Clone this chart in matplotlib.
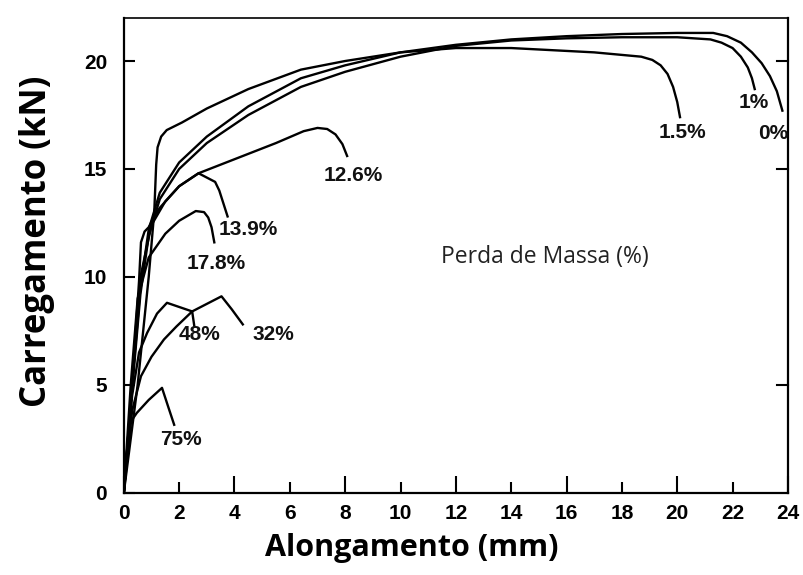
import matplotlib
matplotlib.use('Agg')
import matplotlib.pyplot as plt

# Curve data: elongation (mm) vs load (kN)
x_0 = [0, 0.3, 0.6, 0.9, 1.3, 2.0, 3.0, 4.5, 6.4, 8.0, 10.0, 12.0, 14.0, 16.0, 18.0, 20.0, 21.3, 21.8, 22.3, 22.7, 23.05, 23.35, 23.6, 23.8]
y_0 = [0, 5.0, 9.5, 12.2, 13.9, 15.3, 16.5, 17.9, 19.2, 19.8, 20.4, 20.75, 21.0, 21.15, 21.25, 21.3, 21.3, 21.15, 20.85, 20.4, 19.9, 19.3, 18.6, 17.7]

x_1 = [0, 0.3, 0.6, 0.9, 1.3, 2.0, 3.0, 4.5, 6.4, 8.0, 10.0, 12.0, 14.0, 16.0, 18.0, 20.0, 21.2, 21.6, 22.0, 22.3, 22.55, 22.7, 22.8]
y_1 = [0, 4.8, 9.2, 11.9, 13.6, 15.0, 16.2, 17.5, 18.8, 19.5, 20.2, 20.7, 20.95, 21.05, 21.1, 21.1, 21.0, 20.85, 20.6, 20.2, 19.7, 19.2, 18.7]

x_15 = [0, 0.5, 0.9, 1.1, 1.17, 1.22, 1.35, 1.55, 2.1, 3.0, 4.5, 6.4, 8.0, 10.0, 12.0, 14.0, 15.5, 17.0, 18.7, 19.1, 19.4, 19.65, 19.85, 20.0, 20.1]
y_15 = [0, 5.0, 10.0, 13.0, 15.2, 16.0, 16.5, 16.8, 17.15, 17.8, 18.7, 19.6, 20.0, 20.4, 20.6, 20.6, 20.5, 20.4, 20.2, 20.05, 19.8, 19.4, 18.8, 18.1, 17.4]

x_126 = [0, 0.3, 0.55, 0.62, 0.75, 0.9, 1.1, 1.3, 2.0, 2.7, 4.0, 5.5, 6.5, 7.0, 7.35, 7.65, 7.9, 8.07]
y_126 = [0, 5.0, 9.8, 11.6, 12.1, 12.3, 12.8, 13.2, 14.2, 14.8, 15.45, 16.2, 16.75, 16.9, 16.85, 16.6, 16.15, 15.6]

x_139 = [0, 0.3, 0.6, 1.0, 1.5, 2.0, 2.7, 3.3, 3.45, 3.6, 3.75]
y_139 = [0, 5.0, 10.0, 12.4, 13.5, 14.2, 14.8, 14.4, 14.0, 13.4, 12.8]

x_178 = [0, 0.25, 0.5, 0.9, 1.5, 2.0, 2.6, 2.9, 3.05, 3.17, 3.27]
y_178 = [0, 5.0, 9.0, 10.9, 12.0, 12.6, 13.05, 13.0, 12.75, 12.3, 11.6]

x_48 = [0, 0.3, 0.55, 0.84, 1.2, 1.56, 2.47, 2.55]
y_48 = [0, 4.5, 6.5, 7.4, 8.3, 8.8, 8.4, 7.7]

x_32 = [0, 0.3, 0.62, 1.0, 1.45, 1.9, 2.47, 3.0, 3.53, 3.9, 4.3]
y_32 = [0, 3.8, 5.4, 6.3, 7.1, 7.7, 8.4, 8.75, 9.1, 8.5, 7.8]

x_75 = [0, 0.2, 0.47, 0.9, 1.38, 1.6, 1.82]
y_75 = [0, 3.2, 3.7, 4.3, 4.86, 4.0, 3.15]

curves = [(x_0, y_0), (x_1, y_1), (x_15, y_15), (x_126, y_126), (x_139, y_139),
          (x_178, y_178), (x_48, y_48), (x_32, y_32), (x_75, y_75)]

labels = ['0%', '1%', '1.5%', '12.6%', '13.9%', '17.8%', '48%', '32%', '75%']
label_x = [23.45, 22.75, 20.2, 8.3, 4.5, 3.35, 2.75, 5.4, 2.05]
label_y = [16.65, 18.1, 16.7, 14.7, 12.2, 10.6, 7.35, 7.35, 2.45]

x_ticks = [0, 2, 4, 6, 8, 10, 12, 14, 16, 18, 20, 22, 24]
y_ticks = [0, 5, 10, 15, 20]

narrow = ['Liberation Sans', 'DejaVu Sans']

fig = plt.figure(figsize=(8.04, 5.75), dpi=100)
ax = fig.add_axes([0.154, 0.143, 0.826, 0.826])

for xs, ys in curves:
    ax.plot(xs, ys, color='black', lw=1.7, solid_joinstyle='round')

for t, lx, ly in zip(labels, label_x, label_y):
    ax.text(lx, ly, t, ha='center', va='center', fontsize=15,
            family=narrow, fontweight='bold', color='#111111')

ax.text(11.45, 10.9, 'Perda de Massa (%)', fontsize=16.5, family='Open Sans',
        color='#222222', va='center', ha='left')

ax.set_xlim(0, 24)
ax.set_ylim(0, 22)
ax.set_xticks(x_ticks)
ax.set_yticks(y_ticks)
ax.set_xticklabels([str(t) for t in x_ticks], family=narrow, fontweight='bold', fontsize=15)
ax.set_yticklabels([str(t) for t in y_ticks], family=narrow, fontweight='bold', fontsize=15)
ax.tick_params(direction='in', width=1.5, length=8, pad=8, colors='black')
ax.tick_params(axis='y', right=False, pad=12)

# bottom ticks: longer at multiples of 4
for t, v in zip(ax.xaxis.get_major_ticks(), x_ticks):
    t.tick1line.set_markersize(12 if v % 4 == 0 else 8)

# right spine ticks (only some levels on the original)
for yv in [5, 15, 20]:
    ax.plot([23.6, 24], [yv, yv], color='black', lw=1.5, clip_on=False)

for s in ax.spines.values():
    s.set_linewidth(1.6)
ax.spines['top'].set_linewidth(1.2)

ax.set_xlabel('Alongamento (mm)', fontsize=22, family='Open Sans', fontweight='bold')
ax.xaxis.set_label_coords(0.434, -0.116)
ax.set_ylabel('Carregamento (kN)', fontsize=25, family='Open Sans', fontweight='bold')
ax.yaxis.set_label_coords(-0.131, 0.53)
ax.xaxis.label.set_va('center')
ax.yaxis.label.set_va('center')

fig.savefig('out.png', dpi=100)
